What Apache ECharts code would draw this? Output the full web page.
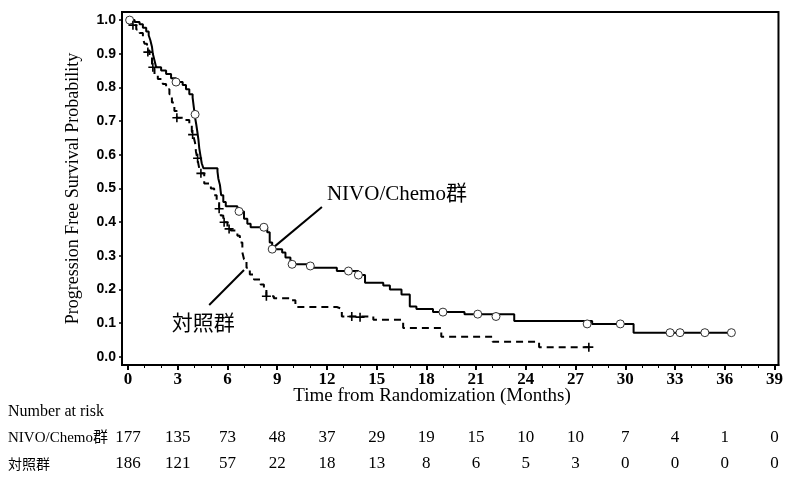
<!DOCTYPE html>
<html><head><meta charset="utf-8">
<script src="https://cdn.jsdelivr.net/npm/echarts@6/dist/echarts.min.js"></script>
<style>html,body{margin:0;padding:0;background:#fff}#c{width:786px;height:486px}</style>
</head><body><div id="c"></div>
<script>
const xTicks = [0,3,6,9,12,15,18,21,24,27,30,33,36,39];
const xMinorTicks = [0,1,2,3,4,5,6,7,8,9,10,11,12,13,14,15,16,17,18,19,20,21,22,23,24,25,26,27,28,29,30,31,32,33,34,35,36,37,38,39];
const yTicks = [0,0.1,0.2,0.3,0.4,0.5,0.6,0.7,0.8,0.9,1.0];
const nivoRisk = [177,135,73,48,37,29,19,15,10,10,7,4,1,0];
const ctrlRisk = [186,121,57,22,18,13,8,6,5,3,0,0,0,0];

const nivoCurve = [[0,1.0],[0.4,0.994],[0.7,0.988],[0.9,0.977],[1.1,0.966],[1.25,0.955],[1.35,0.94],[1.45,0.92],[1.5,0.90],[1.6,0.88],[1.7,0.86],[2.0,0.85],[2.3,0.84],[2.6,0.827],[2.9,0.816],[3.3,0.807],[3.5,0.795],[3.7,0.78],[3.9,0.77],[4.0,0.73],[4.05,0.71],[4.12,0.69],[4.18,0.67],[4.25,0.645],[4.3,0.62],[4.38,0.595],[4.45,0.575],[4.55,0.56],[5.4,0.55],[5.45,0.53],[5.55,0.51],[5.62,0.48],[5.75,0.46],[5.9,0.447],[6.6,0.432],[7.0,0.41],[7.2,0.395],[7.4,0.385],[8.4,0.37],[8.55,0.34],[8.7,0.32],[9.3,0.31],[9.5,0.295],[9.8,0.275],[11.1,0.265],[12.6,0.255],[13.9,0.243],[14.3,0.22],[15.4,0.212],[15.8,0.2],[16.5,0.185],[17.0,0.15],[17.4,0.142],[18.4,0.133],[20.3,0.127],[23.3,0.107],[28.0,0.098],[30.5,0.072],[36.5,0.072]];
const nivoCensor = [[0.1,1.0],[2.9,0.816],[4.05,0.72],[6.7,0.432],[8.2,0.385],[8.7,0.32],[9.9,0.275],[11.0,0.27],[13.3,0.255],[13.9,0.243],[19.0,0.133],[21.1,0.127],[22.2,0.12],[27.7,0.098],[29.7,0.098],[32.7,0.072],[33.3,0.072],[34.8,0.072],[36.4,0.072]];

const ctrlCurve = [[0,1.0],[0.2,0.985],[0.5,0.972],[0.7,0.962],[0.9,0.945],[1.0,0.93],[1.15,0.91],[1.3,0.89],[1.45,0.865],[1.6,0.84],[1.8,0.825],[2.1,0.81],[2.3,0.795],[2.5,0.78],[2.65,0.755],[2.8,0.73],[2.95,0.71],[3.5,0.703],[3.7,0.69],[3.85,0.67],[3.95,0.655],[4.05,0.635],[4.1,0.61],[4.2,0.585],[4.3,0.56],[4.4,0.545],[4.6,0.515],[5.0,0.5],[5.2,0.48],[5.35,0.46],[5.5,0.445],[5.6,0.42],[5.75,0.40],[6.0,0.385],[6.2,0.375],[6.6,0.36],[6.75,0.34],[6.9,0.31],[7.0,0.29],[7.15,0.265],[7.35,0.245],[7.6,0.23],[8.0,0.215],[8.2,0.2],[8.35,0.18],[8.8,0.174],[9.8,0.168],[10.1,0.148],[12.6,0.143],[12.9,0.12],[14.8,0.11],[16.6,0.086],[18.9,0.06],[22.0,0.045],[24.8,0.029],[27.9,0.029]];
const ctrlCensor = [[0.3,0.985],[1.2,0.905],[1.5,0.86],[2.95,0.71],[3.9,0.66],[4.2,0.59],[4.4,0.545],[5.5,0.44],[5.8,0.40],[6.1,0.38],[8.35,0.18],[13.5,0.12],[14.0,0.118],[27.8,0.029]];

const serif = "'Liberation Serif','Noto Sans CJK JP',serif";
const cjk = "'Noto Sans CJK JP',sans-serif";

const chart = echarts.init(document.getElementById('c'), null, {renderer:'canvas'});

function riskAxis(values, margin){
  return {
    type:'value', gridIndex:0, position:'bottom', min:-0.36, max:39.24,
    axisLine:{show:false, onZero:false}, splitLine:{show:false},
    axisTick:{show:false},
    axisLabel:{customValues:xTicks, margin:margin, verticalAlign:'middle', color:'#000',
      fontFamily:serif, fontSize:17,
      formatter:function(v){ const i = xTicks.indexOf(v); return i>=0 ? String(values[i]) : ''; }}
  };
}

chart.setOption({
  animation:false,
  backgroundColor:'#fff',
  grid:{left:122, top:12, right:3, bottom:121, show:true, borderColor:'#000', borderWidth:2, backgroundColor:'transparent'},
  xAxis:[
    {type:'value', position:'bottom', min:-0.36, max:39.24,
     axisLine:{show:true, onZero:false, lineStyle:{color:'#000', width:2}},
     splitLine:{show:false},
     axisTick:{customValues:xTicks, length:5, lineStyle:{color:'#000', width:2}},
     axisLabel:{customValues:xTicks, margin:15, verticalAlign:'middle', color:'#000', fontFamily:serif, fontSize:17, fontWeight:'bold'}},
    {type:'value', position:'bottom', min:-0.36, max:39.24,
     axisLine:{show:false, onZero:false}, splitLine:{show:false},
     axisTick:{customValues:xMinorTicks, length:3, lineStyle:{color:'#000', width:1}},
     axisLabel:{show:false}},
    riskAxis(nivoRisk, 73),
    riskAxis(ctrlRisk, 99)
  ],
  yAxis:[{
    type:'value', min:-0.024, max:1.024,
    axisLine:{show:true, onZero:false, lineStyle:{color:'#000', width:2}},
    splitLine:{show:false},
    axisTick:{customValues:yTicks, length:3, lineStyle:{color:'#000', width:1.5}},
    axisLabel:{customValues:yTicks, margin:6, color:'#000', fontFamily:"'Liberation Sans',sans-serif", fontSize:14, fontWeight:'bold',
      formatter:function(v){return v.toFixed(1);}},
    name:'Progression Free Survival Probability', nameLocation:'middle', nameGap:40,
    nameTextStyle:{fontFamily:serif, fontSize:18, color:'#000'}
  }],
  series:[
    {name:'NIVO/Chemo群', type:'line', step:'end', data:nivoCurve, showSymbol:false, symbol:'none',
     lineStyle:{color:'#000', width:2}, z:3},
    {name:'対照群', type:'line', step:'end', data:ctrlCurve, showSymbol:false, symbol:'none',
     lineStyle:{color:'#000', width:2, type:[7,5]}, z:3},
    {name:'NIVO censor', type:'scatter', data:nivoCensor, symbol:'circle', symbolSize:8,
     itemStyle:{color:'#fff', borderColor:'#333', borderWidth:1, opacity:1}, z:4},
    {name:'ctrl censor', type:'scatter', data:ctrlCensor, symbol:'path://M5,0L5,10M0,5L10,5', symbolSize:9,
     itemStyle:{color:'none', borderColor:'#000', borderWidth:1.6, opacity:1}, z:4}
  ]
});

const p = (t,s) => chart.convertToPixel({gridIndex:0}, [t,s]);
const n1 = p(8.8,0.326), n2 = p(11.7,0.445);
const c1 = p(4.9,0.154), c2 = p(7.0,0.258);
const nt = p(12.0,0.481), ct = p(2.64,0.104);
chart.setOption({graphic:[
  {type:'line', shape:{x1:n1[0],y1:n1[1],x2:n2[0],y2:n2[1]}, style:{stroke:'#000', lineWidth:2}},
  {type:'line', shape:{x1:c1[0],y1:c1[1],x2:c2[0],y2:c2[1]}, style:{stroke:'#000', lineWidth:2}},
  {type:'text', x:nt[0], y:nt[1], style:{text:'NIVO/Chemo群', font:"21px "+serif, fill:'#000', textVerticalAlign:'middle'}},
  {type:'text', x:ct[0], y:ct[1], style:{text:'対照群', font:"21px "+cjk, fill:'#000', textVerticalAlign:'middle'}},
  {type:'text', x:432, y:396, style:{text:'Time from Randomization (Months)', font:"19px "+serif, fill:'#000', textAlign:'center', textVerticalAlign:'middle'}},
  {type:'text', x:8, y:412, style:{text:'Number at risk', font:"16px "+serif, fill:'#000', textVerticalAlign:'middle'}},
  {type:'text', x:8, y:438, style:{text:'NIVO/Chemo群', font:"15px "+serif, fill:'#000', textVerticalAlign:'middle'}},
  {type:'text', x:8, y:464, style:{text:'対照群', font:"14px "+cjk, fill:'#000', textVerticalAlign:'middle'}}
]});
</script></body></html>
